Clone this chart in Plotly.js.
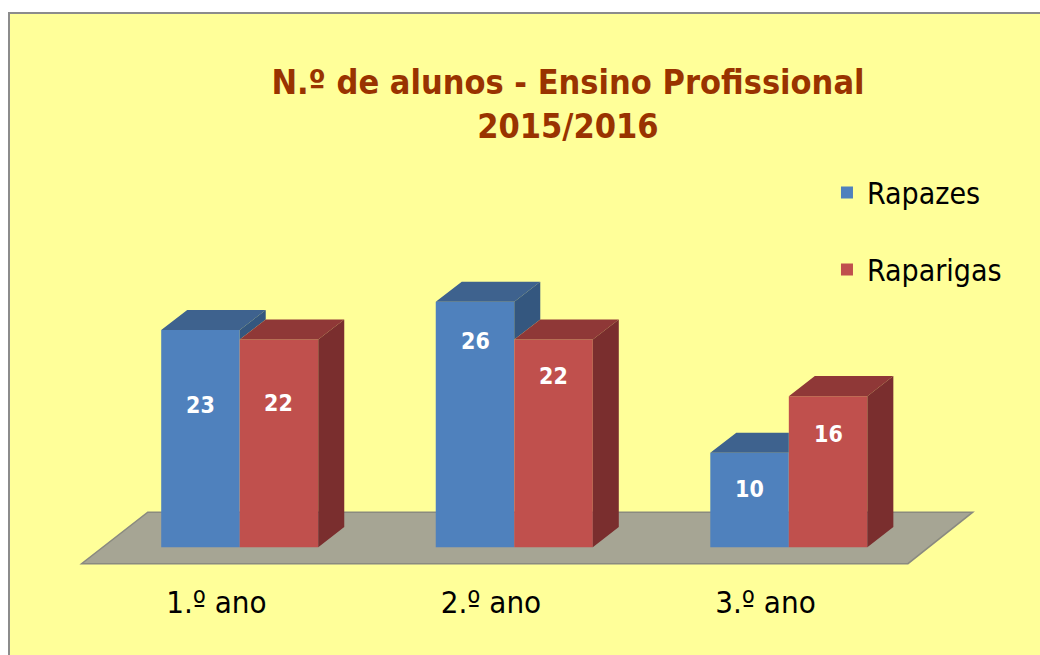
<!DOCTYPE html>
<html><head><meta charset="utf-8">
<script src="https://cdn.plot.ly/plotly-3.0.1.min.js"></script>
<style>
html,body{margin:0;padding:0;background:#fff;width:1040px;height:655px;overflow:hidden}
#frame{position:absolute;left:8px;top:12px;width:1032px;height:643px;border-left:2px solid #8c8c8c;border-top:2px solid #8c8c8c;box-sizing:border-box}
#chart{position:absolute;left:0;top:0;width:1030px;height:641px}
</style></head>
<body><div id="frame"><div id="chart"></div></div>
<script>
// ---- data ----
const categories = ['1.º ano', '2.º ano', '3.º ano'];
const rapazes = [23, 26, 10];
const raparigas = [22, 22, 16];
const seriesNames = ['Rapazes', 'Raparigas'];

// ---- geometry / style ----
const FONT = '"DejaVu Sans Condensed", "DejaVu Sans", sans-serif';
const bw = 0.286;          // bar width (category units)
const ddx = 0.0947;        // depth offset x
const ddy = 2.12;          // depth offset y (value units)
const blue = {front:'#4F81BD', top:'#3E628E', side:'#34577F'};
const red  = {front:'#C0504D', top:'#8F3837', side:'#7A2E2E'};
const labelDropBlue = [75, 39, 36];
const labelDropRed  = [63, 36, 38];

const xs = categories.map((c, i) => i);

function polyTrace(polys, color) {
  const x = [], y = [];
  polys.forEach(p => { p.forEach(pt => { x.push(pt[0]); y.push(pt[1]); }); x.push(p[0][0]); y.push(p[0][1]); x.push(null); y.push(null); });
  return {type:'scatter', mode:'lines', x, y, fill:'toself', fillcolor:color,
          line:{width:0, color:color}, hoverinfo:'skip', showlegend:false};
}

const blueTops = [], blueSides = [], redTops = [], redSides = [];
xs.forEach((xc, i) => {
  const b = rapazes[i], r = raparigas[i];
  const xb0 = xc - bw, xb1 = xc, xr0 = xc, xr1 = xc + bw;
  if (b > r) {
    blueTops.push([[xb0,b],[xb1,b],[xb1+ddx,b+ddy],[xb0+ddx,b+ddy]]);
    blueSides.push([[xb1,r],[xb1,b],[xb1+ddx,b+ddy],[xb1+ddx,r+ddy]]);
  } else {
    blueTops.push([[xb0,b],[xb1,b],[xb1,b+ddy],[xb0+ddx,b+ddy]]);
  }
  redTops.push([[xr0,r],[xr1,r],[xr1+ddx,r+ddy],[xr0+ddx,r+ddy]]);
  redSides.push([[xr1,0],[xr1,r],[xr1+ddx,r+ddy],[xr1+ddx,ddy]]);
});

const traces = [
  {type:'bar', name:seriesNames[0], x:xs, y:rapazes, width:bw, offset:-bw,
   marker:{color:blue.front, line:{width:0}}, legendgroup:'a', hoverinfo:'y'},
  {type:'bar', name:seriesNames[1], x:xs, y:raparigas, width:bw, offset:0,
   marker:{color:red.front, line:{width:0}}, legendgroup:'b', hoverinfo:'y'},
  polyTrace(blueTops, blue.top),
  polyTrace(blueSides, blue.side),
  polyTrace(redTops, red.top),
  polyTrace(redSides, red.side)
];

const annotations = [];
xs.forEach((xc, i) => {
  annotations.push({x: xc - bw/2, y: rapazes[i], xref:'x', yref:'y', text: String(rapazes[i]),
    showarrow:false, yanchor:'middle', yshift:-labelDropBlue[i],
    font:{family:FONT, size:23, color:'#ffffff', weight:'bold'}});
  annotations.push({x: xc + bw/2, y: raparigas[i], xref:'x', yref:'y', text: String(raparigas[i]),
    showarrow:false, yanchor:'middle', yshift:-labelDropRed[i],
    font:{family:FONT, size:23, color:'#ffffff', weight:'bold'}});
});

// floor
const fy0 = -1.75, fy1 = 3.7;
const floorPath = `M ${-0.576} ${fy0} L ${2.434} ${fy0} L ${2.670} ${fy1} L ${-0.335} ${fy1} Z`;

const layout = {
  width:1030, height:641,
  paper_bgcolor:'#FFFF99', plot_bgcolor:'rgba(0,0,0,0)',
  margin:{l:65, r:59, t:250, b:89},
  barmode:'overlay',
  font:{family:FONT, color:'#000000'},
  title:{text:'N.º de alunos - Ensino Profissional<br>2015/2016',
    font:{family:FONT, size:34, color:'#993300', weight:'bold'},
    x:0.5417, xanchor:'center', xref:'container', yref:'container', y:0.875, yanchor:'top'},
  xaxis:{range:[-0.6, 2.7], showgrid:false, zeroline:false, showline:false,
    tickvals: xs.map(v => v - 0.085), ticktext: categories, ticks:'',
    tickfont:{family:FONT, size:31, color:'#000'}, ticklabelstandoff:15, fixedrange:true},
  yaxis:{range:[-2, 30], visible:false, fixedrange:true},
  showlegend:true,
  legend:{x:0.83, xanchor:'left', y:1.323, yanchor:'top', bgcolor:'rgba(0,0,0,0)',
    traceorder:'grouped', tracegroupgap:35, font:{family:FONT, size:30, color:'#000'}},
  shapes:[{type:'path', path:floorPath, xref:'x', yref:'y', layer:'below',
    fillcolor:'#A6A594', line:{color:'#8A8A80', width:1.5}}],
  annotations
};

Plotly.newPlot('chart', traces, layout, {displayModeBar:false, staticPlot:true});
</script></body></html>
